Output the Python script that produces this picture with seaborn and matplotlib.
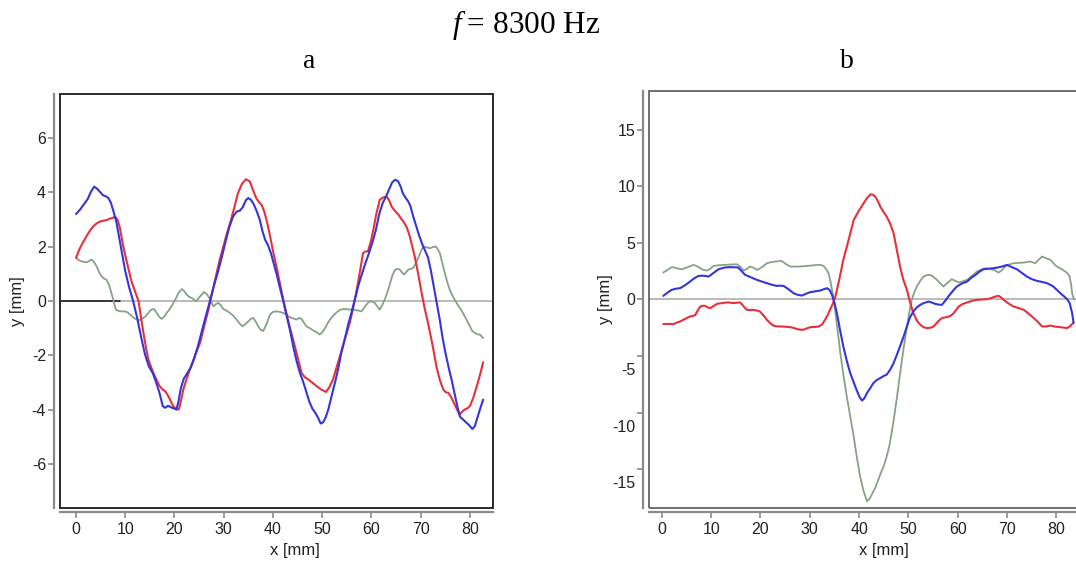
import numpy as np
import pandas as pd
import seaborn as sns
import matplotlib
matplotlib.use("Agg")
import matplotlib.pyplot as plt
import matplotlib.transforms as mtransforms
from matplotlib.patches import Rectangle

# ---------------- data ----------------
a_blue_x = [0, 0.8, 1.6, 2.4, 3.0, 3.7, 4.3, 4.9, 5.5, 6.1, 6.6, 7.1, 7.6, 8.2, 8.8, 9.4, 10.0, 10.8, 11.6, 12.4, 13.2, 14.0, 14.8, 15.6, 16.3, 17.0, 17.6, 18.1, 18.7, 19.3, 19.9, 20.4, 20.8, 21.3, 21.9, 22.6, 23.3, 24.0, 24.7, 25.5, 26.3, 27.2, 28.0, 28.8, 29.6, 30.4, 31.2, 31.9, 32.6, 33.3, 33.9, 34.5, 35.0, 35.6, 36.1, 36.7, 37.3, 37.9, 38.4, 39.0, 39.6, 40.2, 40.8, 41.4, 42.1, 42.8, 43.5, 44.1, 44.8, 45.5, 46.2, 46.8, 47.4, 48.0, 48.6, 49.2, 49.7, 50.2, 50.7, 51.3, 51.9, 52.6, 53.3, 53.9, 54.6, 55.3, 56.0, 56.7, 57.4, 58.1, 58.8, 59.5, 60.2, 60.9, 61.6, 62.3, 63.0, 63.6, 64.2, 64.8, 65.4, 65.9, 66.4, 66.9, 67.4, 67.9, 68.5, 69.1, 69.7, 70.3, 70.9, 71.5, 72.1, 72.7, 73.3, 73.9, 74.5, 75.1, 75.7, 76.3, 76.9, 77.5, 78.0, 78.6, 79.2, 79.8, 80.5, 81.0, 81.5, 82.1, 82.7]
a_blue_y = [3.19, 3.35, 3.55, 3.75, 4.0, 4.2, 4.12, 4.0, 3.88, 3.84, 3.78, 3.6, 3.3, 2.9, 2.3, 1.7, 1.1, 0.5, 0.0, -0.6, -1.3, -1.95, -2.4, -2.65, -3.0, -3.4, -3.85, -3.92, -3.85, -3.9, -3.95, -3.98, -3.7, -3.2, -2.85, -2.65, -2.45, -2.1, -1.7, -1.15, -0.6, 0.0, 0.55, 1.05, 1.6, 2.2, 2.75, 3.1, 3.28, 3.32, 3.45, 3.7, 3.78, 3.7, 3.55, 3.3, 3.0, 2.55, 2.25, 2.05, 1.75, 1.35, 0.95, 0.5, 0.0, -0.55, -1.1, -1.65, -2.2, -2.65, -3.0, -3.35, -3.7, -3.95, -4.1, -4.3, -4.5, -4.45, -4.28, -3.95, -3.5, -3.0, -2.45, -1.9, -1.4, -0.85, -0.4, 0.1, 0.6, 1.0, 1.4, 1.75, 2.15, 2.6, 3.2, 3.6, 3.85, 4.1, 4.35, 4.45, 4.4, 4.22, 3.95, 3.8, 3.68, 3.5, 3.1, 2.75, 2.4, 2.1, 1.85, 1.6, 1.1, 0.5, -0.1, -0.7, -1.4, -1.95, -2.45, -2.9, -3.4, -3.9, -4.25, -4.35, -4.45, -4.55, -4.7, -4.6, -4.3, -3.95, -3.62]

a_red_x = [0, 0.7, 1.4, 2.2, 2.9, 3.5, 4.2, 4.9, 5.6, 6.2, 6.9, 7.5, 7.9, 8.4, 8.9, 9.5, 10.1, 10.7, 11.3, 12.0, 12.7, 13.2, 13.7, 14.2, 14.7, 15.3, 16.0, 16.5, 17.0, 17.6, 18.1, 18.6, 19.1, 19.7, 20.4, 20.9, 21.4, 21.8, 22.4, 23.1, 23.8, 24.5, 25.2, 26.0, 26.9, 27.6, 28.4, 29.2, 30.0, 30.6, 31.3, 32.1, 32.9, 33.7, 34.5, 35.3, 35.9, 36.6, 37.2, 37.7, 38.2, 38.7, 39.4, 40.1, 40.8, 41.4, 42.4, 43.2, 44.1, 45.0, 45.8, 46.5, 47.2, 48.0, 48.9, 49.8, 50.8, 51.5, 52.2, 52.9, 53.6, 54.6, 55.6, 56.3, 56.9, 57.6, 58.3, 58.8, 59.3, 59.9, 60.4, 61.0, 61.7, 62.4, 63.1, 63.6, 64.1, 64.8, 65.5, 66.0, 66.5, 67.2, 67.8, 68.3, 68.8, 69.5, 70.2, 70.8, 71.5, 72.4, 73.2, 73.9, 74.6, 75.1, 75.6, 76.1, 76.6, 77.3, 77.9, 78.5, 79.0, 79.5, 80.0, 80.7, 81.4, 82.0, 82.7]
a_red_y = [1.58, 1.9, 2.15, 2.4, 2.6, 2.74, 2.85, 2.92, 2.95, 2.97, 3.03, 3.05, 3.1, 3.0, 2.7, 2.1, 1.6, 1.15, 0.7, 0.35, 0.0, -0.6, -1.17, -1.7, -2.15, -2.45, -2.76, -2.95, -3.13, -3.25, -3.31, -3.45, -3.62, -3.85, -3.98, -3.98, -3.6, -3.25, -2.9, -2.52, -2.2, -1.85, -1.54, -0.95, -0.32, 0.25, 0.9, 1.52, 2.05, 2.45, 2.86, 3.4, 3.96, 4.3, 4.47, 4.39, 4.1, 3.78, 3.62, 3.53, 3.3, 2.98, 2.4, 1.76, 1.2, 0.66, -0.2, -0.8, -1.42, -2.05, -2.64, -2.8, -2.88, -3.0, -3.13, -3.25, -3.34, -3.15, -2.88, -2.45, -2.03, -1.4, -0.81, -0.25, 0.29, 1.0, 1.76, 1.82, 1.82, 2.2, 2.62, 3.2, 3.72, 3.8, 3.84, 3.7, 3.47, 3.3, 3.17, 3.03, 2.92, 2.7, 2.37, 2.0, 1.64, 1.0, 0.29, -0.25, -0.81, -1.6, -2.4, -2.9, -3.25, -3.35, -3.37, -3.5, -3.68, -3.95, -4.17, -4.05, -3.98, -3.94, -3.86, -3.55, -3.13, -2.75, -2.25]

a_green_x = [0, 0.6, 1.2, 2.2, 2.7, 3.2, 3.7, 4.2, 4.7, 5.2, 5.7, 6.2, 6.7, 7.2, 7.7, 8.1, 8.9, 9.9, 10.5, 11.0, 11.6, 12.3, 13.0, 13.7, 14.2, 14.7, 15.2, 15.7, 16.0, 16.4, 16.9, 17.4, 17.9, 18.4, 19.1, 19.8, 20.3, 20.8, 21.5, 22.0, 22.5, 23.0, 23.5, 24.4, 24.8, 25.2, 26.0, 26.5, 26.9, 27.4, 27.9, 28.4, 28.9, 29.4, 29.9, 30.6, 31.3, 32.0, 32.6, 33.2, 33.8, 34.4, 35.0, 35.5, 36.0, 36.5, 37.0, 37.5, 38.0, 38.7, 39.4, 40.0, 40.7, 41.4, 42.1, 42.7, 43.4, 44.1, 44.8, 45.3, 45.8, 46.3, 46.8, 47.5, 48.2, 48.9, 49.5, 50.0, 50.6, 51.1, 51.6, 52.2, 52.9, 53.6, 54.3, 55.0, 55.6, 56.1, 56.6, 57.3, 58.0, 58.5, 59.0, 59.5, 60.0, 60.7, 61.2, 61.7, 62.2, 62.7, 63.3, 63.8, 64.3, 64.8, 65.3, 65.8, 66.2, 66.6, 67.0, 67.5, 68.0, 68.5, 69.0, 69.5, 70.0, 70.5, 71.2, 71.9, 72.5, 73.1, 73.5, 73.9, 74.4, 74.9, 75.4, 75.9, 76.6, 77.3, 78.0, 78.6, 79.3, 80.0, 80.5, 81.0, 81.5, 82.0, 82.4, 82.7]
a_green_y = [1.58, 1.5, 1.45, 1.42, 1.48, 1.52, 1.42, 1.27, 1.05, 0.9, 0.82, 0.78, 0.6, 0.29, -0.05, -0.32, -0.38, -0.38, -0.42, -0.5, -0.6, -0.68, -0.7, -0.62, -0.55, -0.44, -0.33, -0.29, -0.33, -0.44, -0.58, -0.66, -0.58, -0.44, -0.28, -0.07, 0.1, 0.29, 0.44, 0.36, 0.23, 0.15, 0.11, -0.01, 0.08, 0.17, 0.33, 0.26, 0.17, 0.0, -0.2, -0.12, -0.07, -0.15, -0.29, -0.36, -0.44, -0.55, -0.68, -0.82, -0.93, -0.85, -0.75, -0.66, -0.62, -0.75, -0.93, -1.05, -1.11, -0.85, -0.5, -0.4, -0.38, -0.4, -0.44, -0.5, -0.59, -0.64, -0.68, -0.62, -0.66, -0.8, -0.93, -1.0, -1.08, -1.15, -1.23, -1.15, -0.99, -0.82, -0.68, -0.55, -0.42, -0.33, -0.29, -0.3, -0.32, -0.3, -0.32, -0.35, -0.38, -0.25, -0.13, -0.03, -0.01, -0.07, -0.2, -0.32, -0.15, 0.05, 0.35, 0.66, 0.95, 1.15, 1.18, 1.15, 1.05, 0.97, 1.05, 1.15, 1.18, 1.21, 1.38, 1.58, 1.8, 2.0, 1.97, 1.94, 1.98, 2.0, 1.9, 1.76, 1.4, 1.03, 0.7, 0.42, 0.15, -0.07, -0.27, -0.44, -0.68, -0.93, -1.1, -1.17, -1.22, -1.23, -1.3, -1.36]

b_red_x = [0.3, 1.3, 2.4, 3.0, 3.7, 4.7, 5.7, 6.3, 6.8, 7.3, 7.8, 8.3, 8.8, 9.3, 9.8, 10.5, 11.2, 12.2, 13.2, 14.0, 14.5, 15.2, 15.9, 16.5, 17.2, 17.9, 18.6, 19.3, 19.9, 20.6, 21.3, 22.0, 22.7, 23.4, 24.0, 25.0, 26.0, 26.7, 27.4, 28.0, 28.7, 29.4, 30.1, 31.0, 31.8, 32.5, 33.1, 33.6, 34.1, 34.7, 35.2, 36.0, 36.8, 37.9, 38.9, 39.9, 40.9, 41.6, 42.3, 42.8, 43.3, 43.8, 44.3, 45.0, 45.6, 46.3, 47.0, 47.6, 48.3, 49.0, 49.7, 50.3, 51.0, 51.7, 52.4, 53.1, 53.8, 54.4, 55.1, 55.8, 56.5, 57.1, 57.8, 58.5, 59.2, 60.2, 61.0, 61.9, 62.9, 63.9, 64.9, 65.9, 66.6, 67.3, 67.8, 68.3, 68.8, 69.3, 70.3, 71.3, 72.3, 73.4, 74.4, 75.4, 76.3, 77.1, 77.9, 78.8, 79.8, 80.8, 81.5, 82.2, 82.8, 83.4]
b_red_y = [-2.17, -2.15, -2.17, -2.05, -1.94, -1.72, -1.5, -1.45, -1.35, -0.95, -0.62, -0.55, -0.56, -0.7, -0.76, -0.58, -0.38, -0.32, -0.26, -0.28, -0.32, -0.28, -0.26, -0.55, -0.91, -0.93, -0.91, -0.98, -1.06, -1.4, -1.79, -2.1, -2.32, -2.37, -2.38, -2.4, -2.44, -2.5, -2.61, -2.66, -2.67, -2.55, -2.44, -2.42, -2.38, -2.2, -1.79, -1.4, -0.91, -0.35, 0.26, 1.8, 3.49, 5.3, 7.01, 7.8, 8.48, 8.95, 9.27, 9.25, 9.07, 8.7, 8.19, 7.7, 7.31, 6.7, 5.84, 4.5, 2.91, 1.7, 0.85, -0.2, -1.2, -1.85, -2.23, -2.45, -2.52, -2.5, -2.38, -2.05, -1.73, -1.6, -1.56, -1.45, -1.2, -0.62, -0.4, -0.26, -0.12, -0.03, 0.0, 0.03, 0.1, 0.21, 0.28, 0.32, 0.18, -0.03, -0.35, -0.62, -0.75, -0.91, -1.25, -1.64, -2.0, -2.38, -2.38, -2.3, -2.4, -2.44, -2.48, -2.52, -2.35, -2.08]

b_blue_x = [0.3, 1.1, 2.0, 2.8, 3.7, 4.7, 5.7, 6.5, 7.4, 8.4, 9.5, 10.5, 11.5, 12.5, 13.5, 14.5, 15.5, 16.2, 16.9, 18.1, 19.3, 20.3, 21.3, 22.3, 23.3, 24.0, 24.7, 25.7, 26.7, 27.5, 28.4, 29.2, 30.1, 31.1, 32.1, 32.8, 33.5, 34.0, 34.5, 35.0, 35.5, 36.1, 36.8, 37.5, 38.2, 38.9, 39.6, 40.1, 40.6, 41.1, 41.6, 42.3, 42.9, 43.6, 44.3, 45.0, 45.6, 46.3, 47.0, 47.6, 48.3, 49.0, 49.7, 50.3, 51.0, 51.7, 52.4, 53.2, 54.1, 54.8, 55.4, 56.1, 56.8, 57.4, 58.1, 59.0, 59.8, 60.8, 61.9, 62.7, 63.6, 64.4, 65.2, 66.3, 67.3, 68.1, 69.0, 70.0, 71.0, 72.0, 73.0, 74.0, 75.0, 76.1, 77.1, 78.1, 78.8, 79.4, 80.1, 80.8, 81.5, 82.2, 82.7, 83.2, 83.5]
b_blue_y = [0.32, 0.6, 0.85, 0.95, 1.0, 1.25, 1.58, 1.85, 2.08, 2.1, 2.03, 2.35, 2.67, 2.8, 2.85, 2.85, 2.82, 2.5, 2.17, 1.95, 1.73, 1.58, 1.44, 1.3, 1.2, 1.22, 1.2, 0.9, 0.56, 0.42, 0.35, 0.5, 0.65, 0.72, 0.79, 0.9, 1.0, 0.85, 0.41, -0.3, -1.2, -2.6, -4.14, -5.4, -6.49, -7.3, -8.1, -8.6, -8.92, -8.7, -8.25, -7.8, -7.37, -7.1, -6.93, -6.75, -6.63, -6.2, -5.61, -4.95, -4.14, -3.3, -2.38, -1.6, -1.06, -0.7, -0.47, -0.3, -0.18, -0.28, -0.38, -0.45, -0.47, -0.15, 0.26, 0.75, 1.14, 1.4, 1.58, 1.9, 2.17, 2.45, 2.67, 2.72, 2.76, 2.82, 2.91, 3.05, 2.85, 2.67, 2.35, 2.03, 1.8, 1.64, 1.55, 1.44, 1.3, 1.14, 0.85, 0.56, 0.3, 0.03, -0.32, -1.2, -2.08]

b_green_x = [0.3, 1.1, 2.0, 2.8, 3.7, 4.4, 5.1, 5.8, 6.4, 7.1, 7.8, 8.4, 9.1, 9.8, 10.5, 11.5, 12.5, 13.8, 15.2, 15.9, 16.6, 17.2, 17.9, 18.6, 19.3, 20.3, 21.3, 22.2, 23.0, 23.6, 24.3, 25.1, 26.0, 27.4, 28.4, 29.4, 30.4, 31.4, 32.1, 32.8, 33.3, 33.8, 34.2, 34.5, 34.9, 35.2, 35.7, 36.2, 36.8, 37.5, 38.2, 38.9, 39.5, 40.2, 40.9, 41.6, 42.1, 42.6, 43.3, 43.9, 44.5, 45.0, 45.6, 46.2, 46.7, 47.2, 47.7, 48.2, 48.7, 49.2, 49.7, 50.2, 50.7, 51.2, 51.7, 52.4, 53.1, 53.8, 54.4, 55.1, 55.8, 56.4, 57.1, 57.9, 58.8, 59.5, 60.2, 61.0, 61.9, 62.9, 63.9, 64.8, 65.6, 66.5, 67.3, 68.3, 69.0, 69.6, 70.4, 71.3, 72.3, 73.4, 74.0, 74.7, 75.2, 75.7, 76.4, 77.1, 77.9, 78.8, 79.4, 80.1, 81.0, 81.8, 82.3, 82.7, 83.0, 83.2, 83.5, 83.7]
b_green_y = [2.38, 2.6, 2.85, 2.8, 2.67, 2.72, 2.82, 2.95, 3.05, 2.95, 2.76, 2.62, 2.55, 2.7, 2.96, 3.02, 3.05, 3.08, 3.11, 2.9, 2.55, 2.7, 2.91, 2.8, 2.61, 2.85, 3.2, 3.3, 3.35, 3.38, 3.4, 3.15, 2.91, 2.9, 2.93, 2.96, 3.0, 3.05, 3.06, 2.96, 2.7, 2.32, 1.6, 0.85, 0.0, -1.2, -2.9, -4.73, -6.6, -8.54, -10.3, -12.06, -13.8, -15.59, -16.9, -17.8, -17.6, -17.2, -16.6, -15.9, -15.2, -14.7, -13.85, -12.8, -11.5, -10.1, -8.56, -6.9, -5.32, -3.8, -2.38, -1.1, 0.0, 0.65, 1.15, 1.65, 2.03, 2.15, 2.17, 2.0, 1.73, 1.45, 1.15, 1.45, 1.79, 1.65, 1.5, 1.6, 1.73, 2.1, 2.47, 2.65, 2.76, 2.7, 2.61, 2.38, 2.6, 2.91, 3.08, 3.2, 3.23, 3.26, 3.3, 3.35, 3.28, 3.2, 3.5, 3.79, 3.65, 3.5, 3.2, 2.91, 2.7, 2.47, 2.3, 2.03, 1.3, 0.56, 0.1, 0.0]

# short black reference segment at y = 0 in panel a
a_black_x = [-3.25, 8.9]
a_black_y = [0, 0]

x_ticks = [0, 10, 20, 30, 40, 50, 60, 70, 80]
a_y_ticks = [-6, -4, -2, 0, 2, 4, 6]
b_y_ticks = [-15, -10, -5, 0, 5, 10, 15]
title_text = r"$f\;$= 8300 Hz"
panel_labels = ["a", "b"]

# ---------------- styling ----------------
sns.set_theme(style="white")
plt.rcParams["font.family"] = ["Liberation Sans", "DejaVu Sans"]
plt.rcParams["mathtext.fontset"] = "custom"
plt.rcParams["mathtext.it"] = "Liberation Serif:italic"
plt.rcParams["mathtext.rm"] = "Liberation Serif"

C_BLUE = "#3535dc"
C_RED = "#e8303a"
C_GREEN = "#85a385"
C_ZERO = "#b4b4b4"
C_SPINE = "#8a8a8a"
C_TEXT = "#222222"

fig = plt.figure(figsize=(10.76, 5.64), dpi=100)

W, H = 1076.0, 564.0
def pos(l, t, r, b):
    return [l / W, 1 - b / H, (r - l) / W, (b - t) / H]

ax_a = fig.add_axes(pos(60, 94, 493, 508))
ax_b = fig.add_axes(pos(649, 91, 1081, 508))

def draw_panel(ax, series, xlim, ylim, yticks, box_color):
    ax.axhline(0, color=C_ZERO, lw=1.3, zorder=1)
    for xs, ys, c, lw in series:
        df = pd.DataFrame({"x": xs, "y": ys})
        sns.lineplot(data=df, x="x", y="y", ax=ax, color=c, lw=lw,
                     estimator=None, sort=False, zorder=3)
    ax.set_xlim(*xlim)
    ax.set_ylim(*ylim)
    ax.set_xticks(x_ticks)
    ax.set_yticks(yticks)
    ax.set_yticklabels([str(v) for v in yticks])
    ax.set_xticklabels([str(v) for v in x_ticks])
    for s in ["top", "right"]:
        ax.spines[s].set_visible(False)
    ax.spines["left"].set_position(("outward", 4.5))
    ax.spines["bottom"].set_position(("outward", 3.2))
    for s in ["left", "bottom"]:
        ax.spines[s].set_color(C_SPINE)
        ax.spines[s].set_linewidth(1.6)
    ax.add_patch(Rectangle((0, 0), 1, 1, transform=ax.transAxes, fill=False,
                           edgecolor=box_color, lw=1.4, clip_on=False, zorder=5))
    ax.tick_params(axis="both", which="major", direction="out", length=4,
                   width=1.2, color=C_SPINE, labelsize=11.5, labelcolor=C_TEXT,
                   left=True, bottom=True)
    ax.tick_params(axis="y", pad=1.5)
    ax.tick_params(axis="x", pad=3)
    ax.set_xlabel("x [mm]", fontsize=12, color=C_TEXT)
    ax.set_ylabel("y [mm]", fontsize=12, color=C_TEXT)
    ax.xaxis.set_label_coords(0.543, -0.085)
    ax.grid(False)

draw_panel(ax_a,
           [(a_green_x, a_green_y, C_GREEN, 1.3),
            (a_red_x, a_red_y, C_RED, 1.5),
            (a_blue_x, a_blue_y, C_BLUE, 1.5)],
           (-3.25, 84.7), (-7.6, 7.6), a_y_ticks, "#2a2a2a")
sns.lineplot(x=a_black_x, y=a_black_y, ax=ax_a, color="#111111", lw=1.1,
             estimator=None, sort=False, zorder=2)
ax_a.set_xlim(-3.25, 84.7)
ax_a.yaxis.set_label_coords(-0.081, 0.5)

draw_panel(ax_b,
           [(b_green_x, b_green_y, C_GREEN, 1.3),
            (b_red_x, b_red_y, C_RED, 1.5),
            (b_blue_x, b_blue_y, C_BLUE, 1.5)],
           (-2.6, 85.0), (-18.4, 18.4), b_y_ticks, "#6f6f6f")
ax_b.yaxis.set_label_coords(-0.083, 0.5)

# title and panel letters
fig.text(526 / W, 1 - 33 / H, title_text, ha="center", va="baseline",
         fontsize=22.5, family="Liberation Serif", color="black")
fig.text(309 / W, 1 - 61 / H, panel_labels[0], ha="center", va="center",
         fontsize=20, family="Liberation Serif", color="black")
fig.text(847 / W, 1 - 61 / H, panel_labels[1], ha="center", va="center",
         fontsize=20, family="Liberation Serif", color="black")

# the reference prints the negative labels of panel b slightly lower
fig.canvas.draw()
shift = mtransforms.ScaledTranslation(0, -13 / 100.0, fig.dpi_scale_trans)
for tick, v in zip(ax_b.yaxis.get_major_ticks(), b_y_ticks):
    if v < 0:
        tick.label1.set_transform(tick.label1.get_transform() + shift)

fig.savefig("out.png", dpi=100)
